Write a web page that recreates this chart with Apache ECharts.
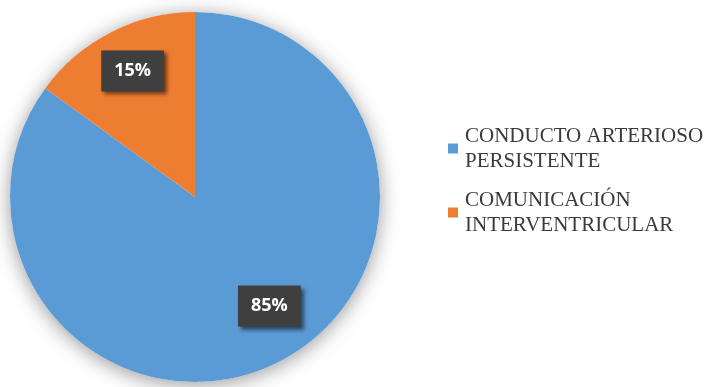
<!DOCTYPE html>
<html>
<head>
<meta charset="utf-8">
<script src="https://cdn.jsdelivr.net/npm/echarts@6/dist/echarts.min.js"></script>
<style>
  html, body { margin: 0; padding: 0; background: #ffffff; }
  #chart { width: 712px; height: 387px; }
</style>
</head>
<body>
<div id="chart"></div>
<script>
// Categories and their shares (percent)
const categories = ['CONDUCTO ARTERIOSO PERSISTENTE', 'COMUNICACIÓN INTERVENTRICULAR'];
const legendLines = ['CONDUCTO ARTERIOSO\nPERSISTENTE', 'COMUNICACIÓN\nINTERVENTRICULAR'];
const values = [85, 15];

// Presentation settings
const colors = ['#5B9BD5', '#ED7D31'];
const labelOffsets = [[31, 24], [-19, -41]];
const pieCenter = [195, 197];
const pieRadius = 185;

const chart = echarts.init(document.getElementById('chart'), null, { renderer: 'canvas' });

const total = values.reduce((a, b) => a + b, 0);

chart.setOption({
  backgroundColor: '#ffffff',
  animation: false,
  color: colors,
  legend: {
    orient: 'vertical',
    left: 443,
    top: 106,
    icon: 'rect',
    itemWidth: 10,
    itemHeight: 10,
    itemGap: -11,
    data: categories,
    formatter: function (name) {
      return legendLines[categories.indexOf(name)];
    },
    textStyle: {
      fontFamily: 'Liberation Serif',
      fontSize: 21,
      color: '#3a3a3a',
      lineHeight: 25,
      padding: [25, 0, 0, 2]
    }
  },
  series: [
    {
      // soft drop shadow under the whole pie
      type: 'pie',
      silent: true,
      z: 1,
      center: pieCenter,
      radius: pieRadius,
      label: { show: false },
      labelLine: { show: false },
      itemStyle: {
        color: '#ffffff',
        shadowBlur: 20,
        shadowColor: 'rgba(0,0,0,0.4)',
        shadowOffsetX: 0,
        shadowOffsetY: 3
      },
      data: [{ value: total, name: '' }],
      legendHoverLink: false
    },
    {
      type: 'pie',
      z: 2,
      center: pieCenter,
      radius: pieRadius,
      startAngle: 90,
      clockwise: true,
      labelLine: { show: false },
      label: {
        show: true,
        position: 'inside',
        formatter: '{c}%',
        fontFamily: 'Open Sans',
        fontWeight: 'bold',
        fontSize: 18,
        color: '#ffffff',
        backgroundColor: '#3f3f3f',
        padding: [12, 13, 11, 13],
        shadowColor: 'rgba(0,0,0,0.55)',
        shadowBlur: 4,
        shadowOffsetX: 3,
        shadowOffsetY: 3
      },
      data: categories.map((name, i) => ({
        name: name,
        value: values[i],
        label: { offset: labelOffsets[i] }
      }))
    }
  ]
});
</script>
</body>
</html>
